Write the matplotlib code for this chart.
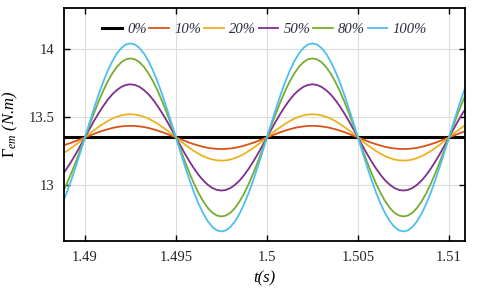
import matplotlib
matplotlib.use("Agg")
import matplotlib.pyplot as plt

plt.rcParams['font.family'] = ['Liberation Serif', 'DejaVu Serif']
plt.rcParams['mathtext.fontset'] = 'custom'
plt.rcParams['mathtext.rm'] = 'Liberation Serif'
plt.rcParams['mathtext.it'] = 'Liberation Serif:italic'

# time samples (s), every 0.25 ms
t = [1.4885 + 0.00025 * k for k in range(91)]

# torque values (N.m)
v0 = [13.352] * 91
v10 = [13.281, 13.29, 13.3, 13.311, 13.324, 13.337, 13.35, 13.363, 13.376, 13.389,
       13.4, 13.41, 13.419, 13.426, 13.431, 13.434, 13.435, 13.434, 13.431, 13.426,
       13.419, 13.41, 13.4, 13.389, 13.376, 13.363, 13.35, 13.337, 13.324, 13.311,
       13.3, 13.29, 13.281, 13.274, 13.269, 13.266, 13.265, 13.266, 13.269, 13.274,
       13.281, 13.29, 13.3, 13.311, 13.324, 13.337, 13.35, 13.363, 13.376, 13.389,
       13.4, 13.41, 13.419, 13.426, 13.431, 13.434, 13.435, 13.434, 13.431, 13.426,
       13.419, 13.41, 13.4, 13.389, 13.376, 13.363, 13.35, 13.337, 13.324, 13.311,
       13.3, 13.29, 13.281, 13.274, 13.269, 13.266, 13.265, 13.266, 13.269, 13.274,
       13.281, 13.29, 13.3, 13.311, 13.324, 13.337, 13.35, 13.363, 13.376, 13.389,
       13.4]
v20 = [13.212, 13.23, 13.25, 13.273, 13.297, 13.323, 13.35, 13.377, 13.403, 13.427,
       13.45, 13.47, 13.488, 13.501, 13.512, 13.518, 13.52, 13.518, 13.512, 13.501,
       13.488, 13.47, 13.45, 13.427, 13.403, 13.377, 13.35, 13.323, 13.297, 13.273,
       13.25, 13.23, 13.212, 13.199, 13.188, 13.182, 13.18, 13.182, 13.188, 13.199,
       13.212, 13.23, 13.25, 13.273, 13.297, 13.323, 13.35, 13.377, 13.403, 13.427,
       13.45, 13.47, 13.488, 13.501, 13.512, 13.518, 13.52, 13.518, 13.512, 13.501,
       13.488, 13.47, 13.45, 13.427, 13.403, 13.377, 13.35, 13.323, 13.297, 13.273,
       13.25, 13.23, 13.212, 13.199, 13.188, 13.182, 13.18, 13.182, 13.188, 13.199,
       13.212, 13.23, 13.25, 13.273, 13.297, 13.323, 13.35, 13.377, 13.403, 13.427,
       13.45]
v50 = [13.034, 13.074, 13.121, 13.173, 13.229, 13.289, 13.35, 13.411, 13.471, 13.527,
       13.579, 13.626, 13.666, 13.697, 13.721, 13.735, 13.74, 13.735, 13.721, 13.697,
       13.666, 13.626, 13.579, 13.527, 13.471, 13.411, 13.35, 13.289, 13.229, 13.173,
       13.121, 13.074, 13.034, 13.003, 12.979, 12.965, 12.96, 12.965, 12.979, 13.003,
       13.034, 13.074, 13.121, 13.173, 13.229, 13.289, 13.35, 13.411, 13.471, 13.527,
       13.579, 13.626, 13.666, 13.697, 13.721, 13.735, 13.74, 13.735, 13.721, 13.697,
       13.666, 13.626, 13.579, 13.527, 13.471, 13.411, 13.35, 13.289, 13.229, 13.173,
       13.121, 13.074, 13.034, 13.003, 12.979, 12.965, 12.96, 12.965, 12.979, 13.003,
       13.034, 13.074, 13.121, 13.173, 13.229, 13.289, 13.35, 13.411, 13.471, 13.527,
       13.579]
v80 = [12.881, 12.94, 13.009, 13.087, 13.171, 13.26, 13.35, 13.44, 13.529, 13.613,
       13.691, 13.76, 13.819, 13.867, 13.902, 13.923, 13.93, 13.923, 13.902, 13.867,
       13.819, 13.76, 13.691, 13.613, 13.529, 13.44, 13.35, 13.26, 13.171, 13.087,
       13.009, 12.94, 12.881, 12.833, 12.798, 12.777, 12.77, 12.777, 12.798, 12.833,
       12.881, 12.94, 13.009, 13.087, 13.171, 13.26, 13.35, 13.44, 13.529, 13.613,
       13.691, 13.76, 13.819, 13.867, 13.902, 13.923, 13.93, 13.923, 13.902, 13.867,
       13.819, 13.76, 13.691, 13.613, 13.529, 13.44, 13.35, 13.26, 13.171, 13.087,
       13.009, 12.94, 12.881, 12.833, 12.798, 12.777, 12.77, 12.777, 12.798, 12.833,
       12.881, 12.94, 13.009, 13.087, 13.171, 13.26, 13.35, 13.44, 13.529, 13.613,
       13.691]
v100 = [12.792, 12.862, 12.944, 13.037, 13.137, 13.242, 13.35, 13.458, 13.563, 13.663,
        13.756, 13.838, 13.908, 13.965, 14.006, 14.032, 14.04, 14.032, 14.006, 13.965,
        13.908, 13.838, 13.756, 13.663, 13.563, 13.458, 13.35, 13.242, 13.137, 13.037,
        12.944, 12.862, 12.792, 12.735, 12.694, 12.668, 12.66, 12.668, 12.694, 12.735,
        12.792, 12.862, 12.944, 13.037, 13.137, 13.242, 13.35, 13.458, 13.563, 13.663,
        13.756, 13.838, 13.908, 13.965, 14.006, 14.032, 14.04, 14.032, 14.006, 13.965,
        13.908, 13.838, 13.756, 13.663, 13.563, 13.458, 13.35, 13.242, 13.137, 13.037,
        12.944, 12.862, 12.792, 12.735, 12.694, 12.668, 12.66, 12.668, 12.694, 12.735,
        12.792, 12.862, 12.944, 13.037, 13.137, 13.242, 13.35, 13.458, 13.563, 13.663,
        13.756]

labels = ['0%', '10%', '20%', '50%', '80%', '100%']
colors = ['#000000', '#D95319', '#EDB120', '#7E2F8E', '#77AC30', '#4DBEEE']
widths = [2.2, 1.3, 1.3, 1.3, 1.3, 1.3]
series = [v0, v10, v20, v50, v80, v100]

xticks = [1.49, 1.495, 1.5, 1.505, 1.51]
xtick_labels = ['1.49', '1.495', '1.5', '1.505', '1.51']
yticks = [13, 13.5, 14]
ytick_labels = ['13', '13.5', '14']

fig = plt.figure(figsize=(4.8, 2.95), dpi=100)
ax = fig.add_axes([0.1333, 0.1831, 0.8354, 0.7898])

for vals, lab, c, w in zip(series, labels, colors, widths):
    ax.plot(t, vals, color=c, lw=w, label=lab)

ax.set_xlim(1.48885, 1.51088)
ax.set_ylim(12.59, 14.30)
ax.set_xticks(xticks)
ax.set_xticklabels(xtick_labels)
ax.set_yticks(yticks)
ax.set_yticklabels(ytick_labels)
ax.grid(True, color='#dcdcdc', lw=0.8)
ax.tick_params(direction='in', top=True, right=True, length=4, width=1,
               labelsize=10.5, colors='black', labelcolor='#262626', pad=7)
for s in ax.spines.values():
    s.set_linewidth(1.3)

ax.set_xlabel('t(s)', fontsize=12, style='italic', labelpad=5)
ax.set_ylabel(r'$\mathit{\Gamma}_{em}$ (N.m)', fontsize=12, style='italic', labelpad=6)

leg = ax.legend(loc='upper center', ncol=6, frameon=False,
                handlelength=1.35, handletextpad=0.35, columnspacing=0.2,
                borderaxespad=0.6, bbox_to_anchor=(0.5, 1.0),
                prop={'style': 'italic', 'size': 10.5})
for txt in leg.get_texts():
    txt.set_color('#2a2a40')

fig.savefig('out.png', dpi=100)
